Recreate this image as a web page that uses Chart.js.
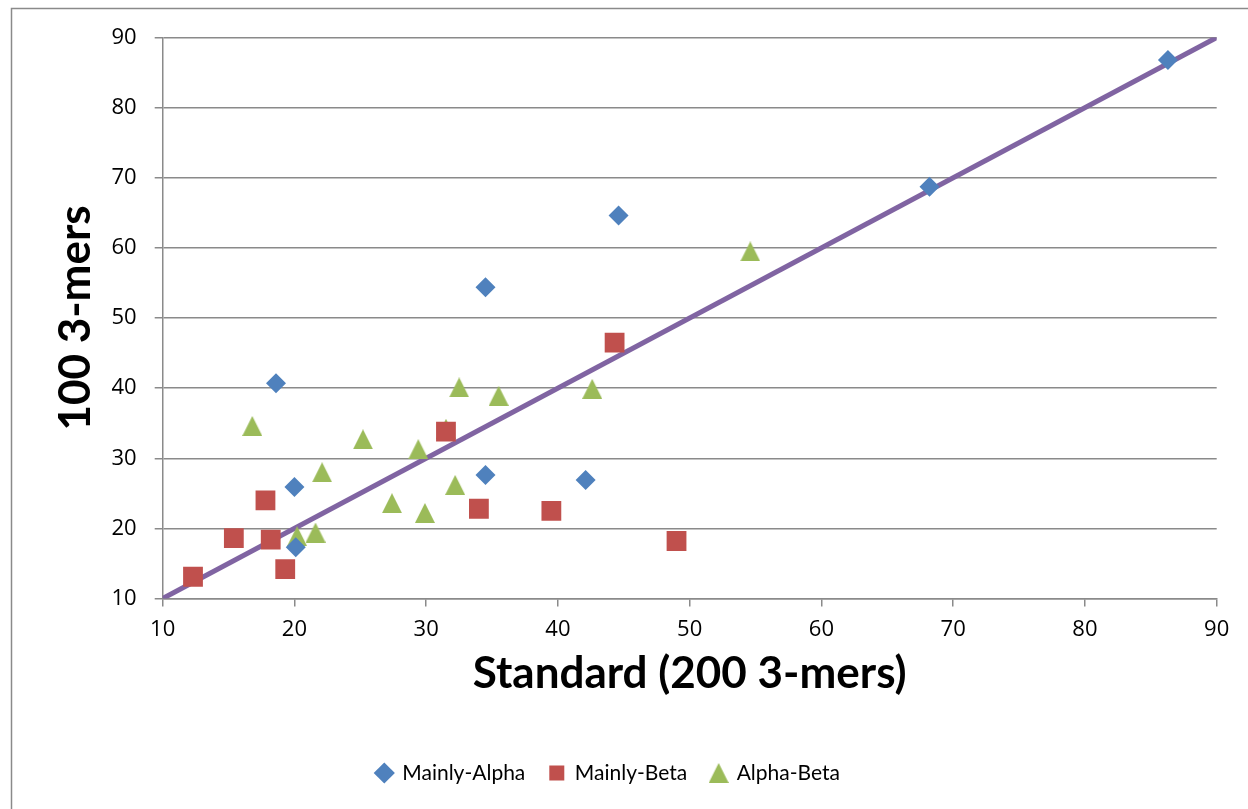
<!DOCTYPE html>
<html>
<head>
<meta charset="utf-8">
<script src="https://cdn.jsdelivr.net/npm/chart.js@4.4.1/dist/chart.umd.min.js"></script>
<style>
  html, body { margin: 0; padding: 0; background: #fff; }
  #wrap { width: 1248px; height: 809px; }
</style>
</head>
<body>
<div id="wrap"><canvas id="chart" width="1248" height="809"></canvas></div>
<script>
// ----- data -----
const alphaX = [18.6, 20.0, 20.1, 34.5, 42.1, 34.5, 44.6, 68.2, 86.3]
const alphaY = [40.7, 25.9, 17.3, 27.6, 26.9, 54.4, 64.6, 68.7, 86.8]

const betaX = [12.3, 15.4, 17.8, 18.2, 19.3, 31.5, 34.0, 39.5, 44.3, 49.0]
const betaY = [13.1, 18.6, 24.0, 18.4, 14.2, 33.8, 22.8, 22.5, 46.5, 18.2]

const abX = [16.8, 20.2, 21.6, 22.1, 25.2, 27.4, 29.4, 29.9, 31.5, 32.2, 32.5, 35.5, 42.6, 54.6]
const abY = [34.6, 18.9, 19.4, 28.0, 32.7, 23.6, 31.3, 22.2, 34.2, 26.2, 40.1, 38.9, 39.9, 59.5]

// y = x reference line, just its two ends
const lineX = [10, 90]
const lineY = [10, 90]

const axisMin = 10
const axisMax = 90
const axisStep = 10

function pts(xs, ys) {
    return xs.map((x, i) => ({x: x, y: ys[i]}))
}

const gray = '#8a8a8a'

// triangle marker centred on its box (like the spreadsheet one),
// the built-in triangle sits on its centroid instead
function triangleMarker(w, h, color) {
    const c = document.createElement('canvas')
    c.width = w
    c.height = h
    const g = c.getContext('2d')
    g.fillStyle = color
    g.beginPath()
    g.moveTo(w / 2, 0)
    g.lineTo(w, h)
    g.lineTo(0, h)
    g.closePath()
    g.fill()
    return c
}

// outer frame like the spreadsheet chart box
const frame = {
    id: 'frame',
    beforeDraw(chart) {
        const ctx = chart.ctx
        ctx.save()
        ctx.fillStyle = '#fff'
        ctx.fillRect(0, 0, chart.width, chart.height)
        ctx.strokeStyle = gray
        ctx.lineWidth = 1.5
        ctx.strokeRect(11.5, 8.5, 1400, 1000)
        ctx.restore()
    }
}

new Chart(document.getElementById('chart'), {
    type: 'scatter',
    data: {
        datasets: [{
            label: 'Mainly-Alpha',
            data: pts(alphaX, alphaY),
            pointStyle: 'rectRot',
            pointRadius: 10,
            backgroundColor: '#4F81BD',
            borderColor: '#4F81BD',
            borderWidth: 0,
            order: 1
        }, {
            label: 'Mainly-Beta',
            data: pts(betaX, betaY),
            pointStyle: 'rect',
            pointRadius: 14,
            backgroundColor: '#C0504D',
            borderColor: '#C0504D',
            borderWidth: 0,
            order: 1
        }, {
            label: 'Alpha-Beta',
            data: pts(abX, abY),
            pointStyle: triangleMarker(20, 20, '#9BBB59'),
            pointRadius: 10,
            backgroundColor: '#9BBB59',
            borderColor: '#9BBB59',
            borderWidth: 0,
            order: 1
        }, {
            label: 'y = x',
            type: 'line',
            data: pts(lineX, lineY),
            borderColor: '#8064A2',
            borderWidth: 5,
            pointRadius: 0,
            fill: false,
            order: 2
        }]
    },
    options: {
        responsive: false,
        animation: false,
        devicePixelRatio: 1,
        layout: {padding: {left: 0, right: 31.3, top: 37.5, bottom: 15.5}},
        plugins: {
            tooltip: {enabled: false},
            legend: {
                position: 'bottom',
                labels: {
                    usePointStyle: true,
                    boxWidth: 15,
                    boxHeight: 15,
                    padding: 24,
                    color: '#000',
                    font: {family: 'Lato', size: 21},
                    filter: item => item.text !== 'y = x'
                }
            }
        },
        scales: {
            x: {
                type: 'linear',
                min: axisMin,
                max: axisMax,
                afterFit: s => { s.height = 140 },
                ticks: {stepSize: axisStep, padding: 10, color: '#000', font: {family: 'Open Sans', size: 22}},
                grid: {drawOnChartArea: false, drawTicks: true, tickLength: 8, color: gray, lineWidth: 1.5},
                border: {color: gray, width: 1.5},
                title: {
                    display: true,
                    text: 'Standard (200 3-mers)',
                    color: '#000',
                    font: {family: 'Lato', size: 44, weight: 'bold'},
                    padding: {top: 0, bottom: 38}
                }
            },
            y: {
                min: axisMin,
                max: axisMax,
                afterFit: s => { s.width = 162.7 },
                ticks: {stepSize: axisStep, padding: 18, color: '#000', font: {family: 'Open Sans', size: 22}},
                grid: {tickLength: 8, color: gray, lineWidth: 1.5},
                border: {color: gray, width: 1.5},
                title: {
                    display: true,
                    text: '100 3-mers',
                    color: '#000',
                    font: {family: 'Lato', size: 44, weight: 'bold'},
                    padding: {top: 49, bottom: 0}
                }
            }
        }
    },
    plugins: [frame]
})
</script>
</body>
</html>
